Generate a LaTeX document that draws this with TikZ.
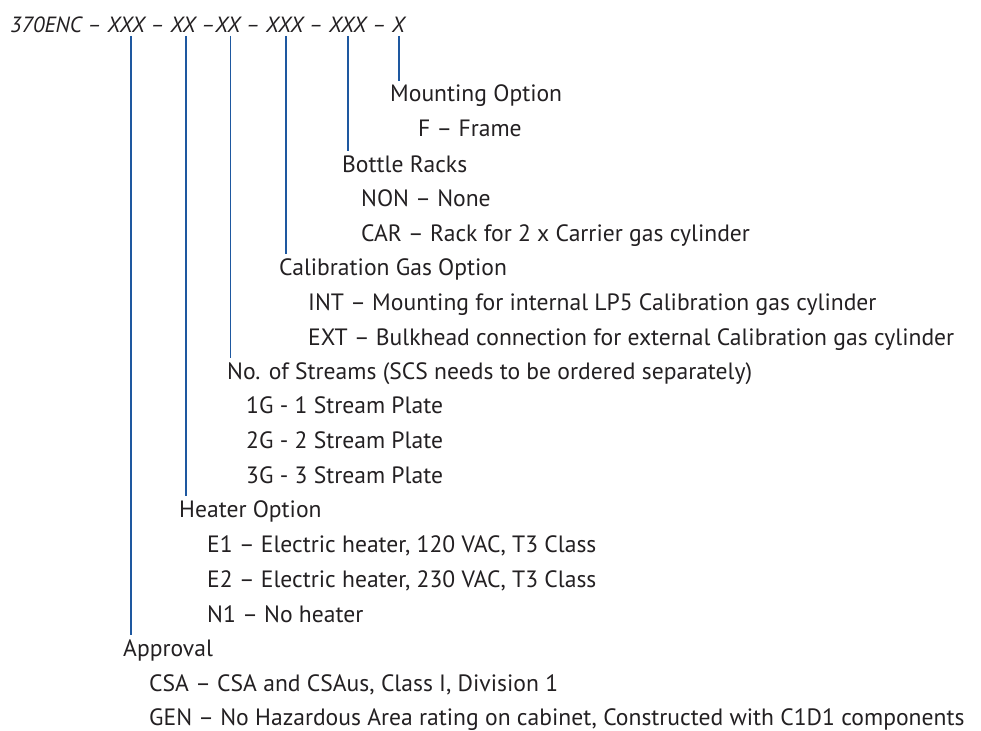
\documentclass[tikz,border=0pt]{standalone}
\usepackage{fontspec}
\setmainfont{PT Sans}
\usetikzlibrary{calc}
\definecolor{txt}{RGB}{35,32,34}
\definecolor{ln}{RGB}{30,88,160}
\begin{document}
\begin{tikzpicture}[x=1pt,y=-1pt,
  lbl/.style={anchor=base west,inner sep=0pt,text=txt,font=\fontsize{23.6}{28}\selectfont},
  hdrstyle/.style={anchor=base west,inner sep=0pt,text=txt,font=\fontsize{22}{26}\selectfont\itshape},
  lead/.style={draw=ln,line width=1.6pt}]
\useasboundingbox[fill=white] (0,0) rectangle (981,730);
% header
\node[hdrstyle] (hdr) at (10,33) {370ENC – XXX – XX –XX – XXX – XXX – X};
\coordinate (h1) at (130.7,36);
\coordinate (h2) at (185.7,36);
\coordinate (h3) at (230.3,36);
\coordinate (h4) at (285.7,36);
\coordinate (h5) at (347.7,36);
\coordinate (h6) at (398.7,36);
% labels
\node[lbl] (mnt) at (390,102) {Mounting Option};
\node[lbl] (mntF) at (418,137) {F – Frame};
\node[lbl] (btl) at (342,172) {Bottle Racks};
\node[lbl] (btlN) at (361,206) {NON – None};
\node[lbl] (btlC) at (361,241) {CAR – Rack for 2 x Carrier gas cylinder};
\node[lbl] (cal) at (279,275) {Calibration Gas Option};
\node[lbl] (calI) at (308,310) {INT – Mounting for internal LP5 Calibration gas cylinder};
\node[lbl] (calE) at (308,345) {EXT – Bulkhead connection for external Calibration gas cylinder};
\node[lbl] (str) at (227,379) {No. of Streams (SCS needs to be ordered separately)};
\node[lbl] (str1) at (246,413) {1G - 1 Stream Plate};
\node[lbl] (str2) at (246,448) {2G - 2 Stream Plate};
\node[lbl] (str3) at (246,483) {3G - 3 Stream Plate};
\node[lbl] (htr) at (179,517) {Heater Option};
\node[lbl] (htr1) at (207,552) {E1 – Electric heater, 120 VAC, T3 Class};
\node[lbl] (htr2) at (207,587) {E2 – Electric heater, 230 VAC, T3 Class};
\node[lbl] (htr3) at (207,622) {N1 – No heater};
\node[lbl] (apr) at (123,656) {Approval};
\node[lbl] (apr1) at (149,691) {CSA – CSA and CSAus, Class I, Division 1};
\node[lbl] (apr2) at (149,725) {GEN – No Hazardous Area rating on cabinet, Constructed with C1D1 components};
% leaders
\draw[lead] (h6) -- (h6 |- {$(mnt.base)+(0,-21)$});
\draw[lead] (h5) -- (h5 |- {$(btl.base)+(0,-21)$});
\draw[lead] (h4) -- (h4 |- {$(cal.base)+(0,-21)$});
\draw[lead] (h3) -- (h3 |- {$(str.base)+(0,-21)$});
\draw[lead] (h2) -- (h2 |- {$(htr.base)+(0,-21)$});
\draw[lead] (h1) -- (h1 |- {$(apr.base)+(0,-21)$});
\end{tikzpicture}
\end{document}
